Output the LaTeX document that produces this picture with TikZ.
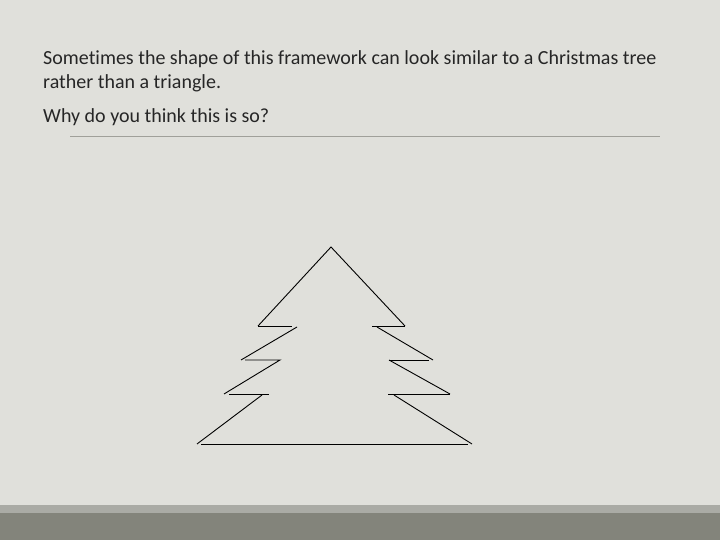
\documentclass[tikz,border=0pt]{standalone}
\usepackage{fontspec}
\setmainfont[Ligatures=NoCommon]{Carlito}
\definecolor{bg}{HTML}{E0E0DB}
\definecolor{band}{HTML}{AAABA5}
\definecolor{bar}{HTML}{83847B}
\definecolor{rule}{HTML}{A0A09A}
\definecolor{txt}{HTML}{262626}
\begin{document}
\begin{tikzpicture}[x=1pt,y=-1pt,
  tree/.style={line width=0.9pt,black},
  body/.style={font=\fontsize{20}{24}\selectfont,text=txt,anchor=base west,inner sep=0pt}]
\fill[bg] (0,0) rectangle (720,540);
\useasboundingbox (0,0) rectangle (720,540);
\fill[band] (0,505) rectangle (720,513);
\fill[bar] (0,513) rectangle (720,540);
\node[body] (l1) at (43,65) {Sometimes the shape of this framework can look similar to a Christmas tree};
\node[body] (l2) at (43,89) {rather than a triangle.};
\node[body] (l3) at (43,123) {Why do you think this is so?};
\draw[rule,line width=0.8pt] (70,136) -- (660,136);
% left side
\draw[tree] (258,326) -- (331,247) -- (405,326);
\draw[tree] (258,326) -- (292,326);
\draw[tree] (297,327) -- (241,360);
\draw[tree] (245,360) -- (280,360) -- (224,394);
\draw[tree] (229,394) -- (269,394);
\draw[tree] (262,395) -- (197,444);
\draw[tree] (201,444) -- (468,444);
% right side
\draw[tree] (372,326) -- (405,326);
\draw[tree] (377,327) -- (433,360);
\draw[tree] (389,360) -- (429,360);
\draw[tree] (389,360) -- (450,394);
\draw[tree] (388,394) -- (450,394);
\draw[tree] (394,395) -- (472,444);
\end{tikzpicture}
\end{document}
